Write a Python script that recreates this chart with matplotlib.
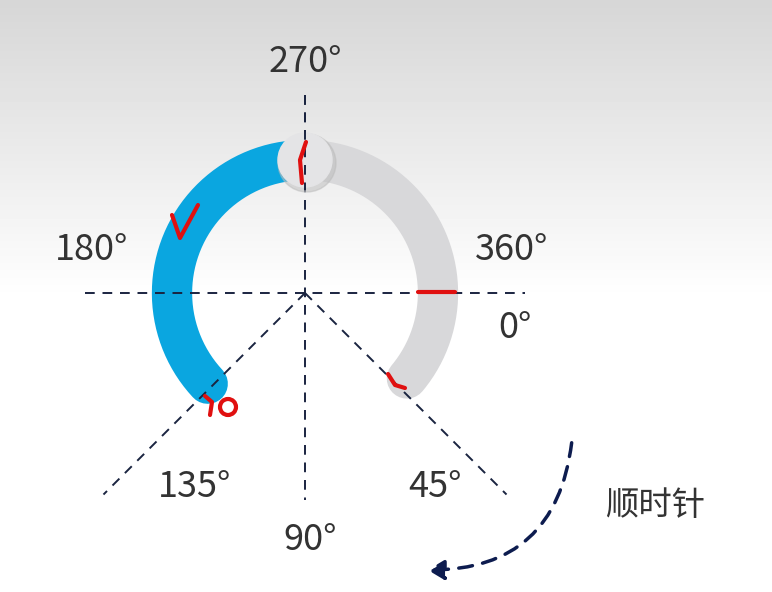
import numpy as np
import matplotlib.pyplot as plt
from matplotlib.patches import Circle, FancyArrowPatch

plt.rcParams['font.family'] = ['Noto Sans CJK SC', 'DejaVu Sans']

# diagram data (screen angles, clockwise from +x, degrees)
blue_span = [137, 270]
gray_span = [270, 400]
angle_labels = ['270°', '180°', '360°', '0°', '135°', '45°', '90°']
label_pos = [(305, 62), (92, 250), (512, 250), (515, 328), (195, 487), (435, 487), (310, 540)]
arrow_text = '顺时针'

cx, cy, r = 305, 293, 133

fig = plt.figure(figsize=(7.72, 5.92), dpi=100)
ax = fig.add_axes([0, 0, 1, 1])
ax.set_xlim(0, 772)
ax.set_ylim(592, 0)
ax.axis('off')

# background gradient: gray at top fading to white
grad = np.linspace(0, 1, 300)
bg = np.ones((592, 1))
bg[:300, 0] = 0.84 + 0.16 * grad
ax.imshow(bg, cmap='gray', vmin=0, vmax=1, extent=[0, 772, 592, 0], aspect='auto', zorder=0)

def arc(a0, a1, color):
    t = np.radians(np.linspace(a0, a1, 200))
    ax.plot(cx + r * np.cos(t), cy + r * np.sin(t), color=color, lw=29,
            solid_capstyle='round', zorder=2)

arc(*gray_span, '#d8d8da')
arc(*blue_span, '#0aa6e0')

# dashed guide lines
dash = dict(color='#1a2440', lw=1.4, ls=(0, (5, 4)), zorder=3)
ax.plot([85, 525], [cy, cy], **dash)
ax.plot([cx, cx], [95, 500], **dash)
for a in (135, 45):
    t = np.radians(a)
    L = 285
    ax.plot([cx, cx + L * np.cos(t)], [cy, cy + L * np.sin(t)], **dash)

# knob
ax.add_patch(Circle((cx + 2, 163), 29, color='#bbbbbb', alpha=0.5, zorder=4))
ax.add_patch(Circle((cx, 160), 27, color='#e4e4e6', zorder=5))
ax.plot([cx, cx], [95, 190], **{**dash, 'zorder': 6})

# red handwritten marks
red = dict(color='#e01010', lw=3, zorder=7, solid_capstyle='round')
ax.plot([306, 300, 302], [142, 160, 183], **red)
ax.plot([172, 180, 198], [215, 238, 205], **red)
ax.plot([418, 455], [292, 292], **red)
ax.plot([388, 395, 405], [374, 385, 388], **red)
ax.plot([205, 212, 210], [396, 402, 415], **red)
ax.add_patch(Circle((228, 407), 8, fill=False, ec='#e01010', lw=3, zorder=7))

for s, (x, y) in zip(angle_labels, label_pos):
    ax.text(x, y, s, fontsize=26, ha='center', va='center', color='#333333', zorder=8)

ax.text(655, 505, arrow_text, fontsize=24, ha='center', va='center', color='#333333')
ax.add_patch(FancyArrowPatch((572, 440), (425, 570), connectionstyle='arc3,rad=-0.45',
                             arrowstyle='-|>,head_length=10,head_width=6', color='#0d1c4f',
                             lw=2.5, ls=(0, (4, 3)), zorder=8))

fig.savefig('out.png', dpi=100)
